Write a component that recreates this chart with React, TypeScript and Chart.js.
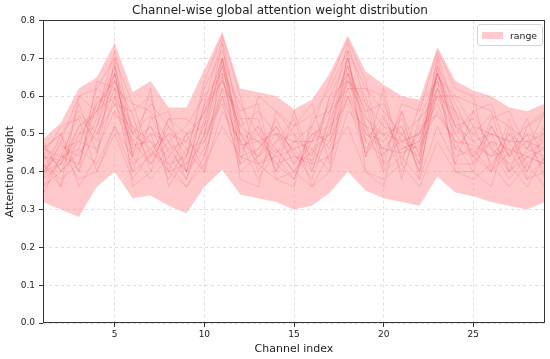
import React, { useEffect, useRef } from "react";
import { Chart, registerables } from "chart.js";

Chart.register(...registerables);

const channels = [1, 2, 3, 4, 5, 6, 7, 8, 9, 10, 11, 12, 13, 14, 15, 16, 17, 18, 19, 20, 21, 22, 23, 24, 25, 26, 27, 28, 29];

const rangeMax = [0.485, 0.53, 0.62, 0.65, 0.74, 0.61, 0.64, 0.57, 0.57, 0.67, 0.77, 0.62, 0.61, 0.6, 0.565, 0.59, 0.66, 0.76, 0.665, 0.63, 0.6, 0.59, 0.73, 0.64, 0.615, 0.6, 0.57, 0.56, 0.58];
const rangeMin = [0.32, 0.3, 0.28, 0.36, 0.4, 0.33, 0.337, 0.31, 0.29, 0.36, 0.405, 0.34, 0.33, 0.32, 0.3, 0.31, 0.345, 0.4, 0.35, 0.33, 0.32, 0.31, 0.387, 0.345, 0.335, 0.32, 0.31, 0.3, 0.32];

const sample01 = [0.44, 0.42, 0.52, 0.55, 0.72, 0.5, 0.55, 0.45, 0.4, 0.58, 0.75, 0.52, 0.48, 0.44, 0.46, 0.4, 0.55, 0.74, 0.58, 0.52, 0.47, 0.44, 0.71, 0.55, 0.5, 0.46, 0.42, 0.45, 0.48];
const sample02 = [0.4, 0.46, 0.48, 0.58, 0.62, 0.45, 0.5, 0.48, 0.42, 0.52, 0.68, 0.48, 0.44, 0.5, 0.42, 0.45, 0.5, 0.66, 0.52, 0.46, 0.52, 0.4, 0.64, 0.52, 0.45, 0.5, 0.4, 0.44, 0.42];
const sample03 = [0.48, 0.4, 0.45, 0.5, 0.58, 0.48, 0.42, 0.52, 0.46, 0.48, 0.62, 0.45, 0.52, 0.4, 0.48, 0.52, 0.46, 0.62, 0.48, 0.55, 0.44, 0.5, 0.58, 0.46, 0.52, 0.42, 0.48, 0.4, 0.5];
const sample04 = [0.36, 0.44, 0.55, 0.48, 0.66, 0.42, 0.46, 0.4, 0.5, 0.55, 0.7, 0.5, 0.42, 0.46, 0.4, 0.48, 0.56, 0.68, 0.55, 0.45, 0.48, 0.46, 0.66, 0.5, 0.44, 0.48, 0.46, 0.38, 0.44];
const sample05 = [0.42, 0.38, 0.42, 0.6, 0.55, 0.52, 0.48, 0.44, 0.38, 0.5, 0.58, 0.42, 0.46, 0.52, 0.45, 0.38, 0.52, 0.58, 0.45, 0.5, 0.4, 0.52, 0.55, 0.48, 0.4, 0.52, 0.44, 0.48, 0.4];
const sample06 = [0.46, 0.5, 0.4, 0.52, 0.68, 0.46, 0.52, 0.42, 0.44, 0.62, 0.72, 0.55, 0.4, 0.48, 0.5, 0.44, 0.6, 0.7, 0.5, 0.48, 0.54, 0.42, 0.68, 0.58, 0.48, 0.44, 0.5, 0.46, 0.52];
const sample07 = [0.38, 0.42, 0.58, 0.45, 0.6, 0.4, 0.44, 0.5, 0.4, 0.46, 0.65, 0.46, 0.5, 0.42, 0.38, 0.5, 0.48, 0.64, 0.6, 0.42, 0.46, 0.48, 0.62, 0.44, 0.46, 0.4, 0.45, 0.5, 0.38];
const sample08 = [0.45, 0.36, 0.5, 0.52, 0.64, 0.55, 0.4, 0.46, 0.48, 0.44, 0.6, 0.4, 0.44, 0.54, 0.44, 0.42, 0.44, 0.6, 0.46, 0.52, 0.5, 0.45, 0.6, 0.5, 0.56, 0.46, 0.38, 0.44, 0.46];
const sample09 = [0.34, 0.44, 0.46, 0.42, 0.52, 0.44, 0.5, 0.38, 0.46, 0.4, 0.56, 0.48, 0.38, 0.45, 0.48, 0.46, 0.4, 0.56, 0.52, 0.4, 0.44, 0.38, 0.52, 0.42, 0.42, 0.48, 0.42, 0.36, 0.44];
const sample10 = [0.43, 0.48, 0.6, 0.62, 0.7, 0.58, 0.56, 0.48, 0.52, 0.6, 0.66, 0.58, 0.5, 0.45, 0.52, 0.55, 0.62, 0.72, 0.62, 0.56, 0.5, 0.54, 0.65, 0.6, 0.52, 0.5, 0.48, 0.52, 0.55];
const sample11 = [0.4, 0.45, 0.38, 0.4, 0.5, 0.38, 0.45, 0.42, 0.36, 0.42, 0.52, 0.44, 0.42, 0.38, 0.4, 0.36, 0.45, 0.52, 0.4, 0.38, 0.42, 0.36, 0.48, 0.4, 0.38, 0.42, 0.36, 0.42, 0.36];
const sample12 = [0.47, 0.4, 0.52, 0.56, 0.6, 0.5, 0.58, 0.52, 0.44, 0.56, 0.64, 0.52, 0.56, 0.5, 0.46, 0.48, 0.58, 0.66, 0.56, 0.58, 0.48, 0.5, 0.6, 0.56, 0.5, 0.55, 0.52, 0.48, 0.5];
const sample13 = [0.41, 0.47, 0.44, 0.54, 0.66, 0.44, 0.38, 0.44, 0.5, 0.52, 0.74, 0.44, 0.46, 0.52, 0.42, 0.5, 0.52, 0.7, 0.48, 0.44, 0.56, 0.44, 0.7, 0.46, 0.44, 0.4, 0.5, 0.42, 0.47];
const sample14 = [0.44, 0.43, 0.48, 0.46, 0.56, 0.47, 0.48, 0.4, 0.42, 0.48, 0.6, 0.47, 0.48, 0.42, 0.44, 0.43, 0.48, 0.6, 0.5, 0.46, 0.45, 0.47, 0.56, 0.48, 0.47, 0.44, 0.46, 0.44, 0.42];
const sample15 = [0.39, 0.5, 0.56, 0.5, 0.62, 0.52, 0.42, 0.48, 0.38, 0.54, 0.68, 0.5, 0.44, 0.48, 0.54, 0.4, 0.54, 0.64, 0.54, 0.5, 0.52, 0.4, 0.62, 0.52, 0.54, 0.47, 0.4, 0.46, 0.44];
const sample16 = [0.46, 0.44, 0.42, 0.58, 0.64, 0.48, 0.52, 0.46, 0.4, 0.5, 0.7, 0.48, 0.52, 0.46, 0.4, 0.46, 0.5, 0.68, 0.44, 0.54, 0.46, 0.48, 0.66, 0.54, 0.44, 0.52, 0.44, 0.5, 0.48];
const sample17 = [0.36, 0.4, 0.46, 0.62, 0.58, 0.56, 0.6, 0.4, 0.36, 0.44, 0.62, 0.56, 0.58, 0.38, 0.36, 0.54, 0.56, 0.62, 0.62, 0.6, 0.38, 0.54, 0.6, 0.6, 0.58, 0.56, 0.4, 0.52, 0.56];
const sample18 = [0.46, 0.5, 0.36, 0.44, 0.7, 0.36, 0.4, 0.54, 0.5, 0.4, 0.7, 0.38, 0.36, 0.56, 0.5, 0.36, 0.4, 0.72, 0.4, 0.36, 0.56, 0.38, 0.68, 0.4, 0.4, 0.36, 0.52, 0.38, 0.4];
const sample19 = [0.42, 0.36, 0.6, 0.56, 0.66, 0.44, 0.62, 0.36, 0.44, 0.64, 0.76, 0.6, 0.42, 0.44, 0.38, 0.52, 0.64, 0.75, 0.64, 0.42, 0.58, 0.56, 0.72, 0.62, 0.6, 0.4, 0.54, 0.4, 0.52];
const sample20 = [0.38, 0.48, 0.4, 0.64, 0.62, 0.58, 0.44, 0.54, 0.54, 0.5, 0.66, 0.42, 0.6, 0.56, 0.52, 0.58, 0.42, 0.66, 0.44, 0.62, 0.42, 0.58, 0.64, 0.42, 0.56, 0.58, 0.44, 0.54, 0.42];
const sample21 = [0.44, 0.52, 0.54, 0.4, 0.52, 0.4, 0.54, 0.56, 0.4, 0.58, 0.64, 0.54, 0.54, 0.4, 0.56, 0.42, 0.6, 0.64, 0.58, 0.4, 0.5, 0.42, 0.66, 0.56, 0.42, 0.54, 0.56, 0.46, 0.56];
const sample22 = [0.4, 0.42, 0.5, 0.56, 0.68, 0.5, 0.46, 0.5, 0.48, 0.56, 0.7, 0.5, 0.48, 0.5, 0.48, 0.48, 0.5, 0.7, 0.52, 0.5, 0.48, 0.5, 0.66, 0.52, 0.48, 0.5, 0.48, 0.48, 0.46];

const samples = [
  sample01, sample02, sample03, sample04, sample05, sample06, sample07, sample08, sample09, sample10, sample11,
  sample12, sample13, sample14, sample15, sample16, sample17, sample18, sample19, sample20, sample21, sample22,
];

const xTickValues = [5, 10, 15, 20, 25];

const FONT = "'DejaVu Sans', sans-serif";
const BAND_COLOR = "rgba(255, 150, 155, 0.52)";
const LINE_COLOR = "rgba(228, 70, 80, 0.2)";

const frame = {
  id: "frame",
  afterDatasetsDraw(chart: any) {
    const { ctx, chartArea } = chart;
    ctx.save();
    ctx.strokeStyle = "#333";
    ctx.lineWidth = 1;
    ctx.strokeRect(
      Math.round(chartArea.left) + 0.5,
      Math.round(chartArea.top) + 0.5,
      Math.round(chartArea.right - chartArea.left) - 1,
      Math.round(chartArea.bottom - chartArea.top) - 1
    );
    ctx.restore();
  },
};

export default function App() {
  const ref = useRef<HTMLCanvasElement>(null);

  useEffect(() => {
    const toPts = (arr: number[]) => arr.map((v, i) => ({ x: channels[i], y: v }));
    const lineSets = samples.map((s, i) => ({
      label: "sample " + (i + 1),
      data: toPts(s),
      borderColor: LINE_COLOR,
      borderWidth: 1,
      pointRadius: 0,
      fill: false,
      tension: 0,
    }));
    const chart = new Chart(ref.current as HTMLCanvasElement, {
      type: "line",
      data: {
        datasets: [
          ...lineSets,
          {
            label: "min",
            data: toPts(rangeMin),
            borderWidth: 0,
            borderColor: "rgba(0,0,0,0)",
            pointRadius: 0,
            fill: false,
          },
          {
            label: "range",
            data: toPts(rangeMax),
            borderWidth: 0,
            borderColor: "rgba(0,0,0,0)",
            backgroundColor: BAND_COLOR,
            pointRadius: 0,
            fill: "-1",
          },
        ],
      } as any,
      plugins: [frame],
      options: {
        animation: false,
        responsive: false,
        maintainAspectRatio: false,
        layout: { padding: { left: 15, right: 5, top: 0, bottom: 0 } },
        plugins: {
          legend: { display: false },
          tooltip: { enabled: false },
          filler: { drawTime: "beforeDatasetsDraw" } as any,
          title: {
            display: true,
            text: "Channel-wise global attention weight distribution",
            color: "#222",
            font: { family: FONT, size: 12, weight: "normal" },
            padding: { top: 4, bottom: 2 },
          },
        },
        scales: {
          x: {
            type: "linear",
            min: 1,
            max: 29,
            afterBuildTicks: (scale: any) => {
              scale.ticks = xTickValues.map((v) => ({ value: v }));
            },
            afterFit: (scale: any) => {
              scale.height = 36;
            },
            ticks: {
              color: "#222",
              font: { family: FONT, size: 9 },
              padding: 2,
              maxRotation: 0,
              autoSkip: false,
            },
            grid: {
              color: "rgba(0,0,0,0.13)",
              tickColor: "#333",
              tickLength: 4,
              tickBorderDash: [],
            } as any,
            border: { display: false, dash: [3, 3] },
            title: {
              display: true,
              text: "Channel index",
              color: "#222",
              font: { family: FONT, size: 11 },
              padding: { top: 0, bottom: 3 },
            },
          },
          y: {
            min: 0,
            max: 0.8,
            afterFit: (scale: any) => {
              scale.width = 28;
            },
            ticks: {
              stepSize: 0.1,
              color: "#222",
              font: { family: FONT, size: 9 },
              padding: 4,
              callback: (v: any) => Number(v).toFixed(1),
            },
            grid: {
              color: "rgba(0,0,0,0.13)",
              tickColor: "#333",
              tickLength: 4,
              tickBorderDash: [],
            } as any,
            border: { display: false, dash: [3, 3] },
            title: {
              display: true,
              text: "Attention weight",
              color: "#222",
              font: { family: FONT, size: 11 },
              padding: { top: -11, bottom: 0 },
            },
          },
        },
      } as any,
    });
    return () => chart.destroy();
  }, []);

  return (
    <div style={{ position: "fixed", left: 0, top: 0, width: 550, height: 359, background: "#fff" }}>
      <canvas ref={ref} width={550} height={359} style={{ display: "block", width: 550, height: 359 }} />
      <div
        style={{
          position: "absolute",
          left: 477,
          top: 24,
          width: 66,
          height: 22,
          boxSizing: "border-box",
          border: "1px solid #d6d6d6",
          borderRadius: 3,
          background: "rgba(255,255,255,0.8)",
          display: "flex",
          alignItems: "center",
          fontFamily: FONT,
          fontSize: 9.3,
          color: "#222",
        }}
      >
        <span
          style={{
            display: "inline-block",
            marginLeft: 4,
            width: 21,
            height: 7,
            background: "rgb(255,202,205)",
          }}
        />
        <span style={{ marginLeft: 7 }}>range</span>
      </div>
    </div>
  );
}
